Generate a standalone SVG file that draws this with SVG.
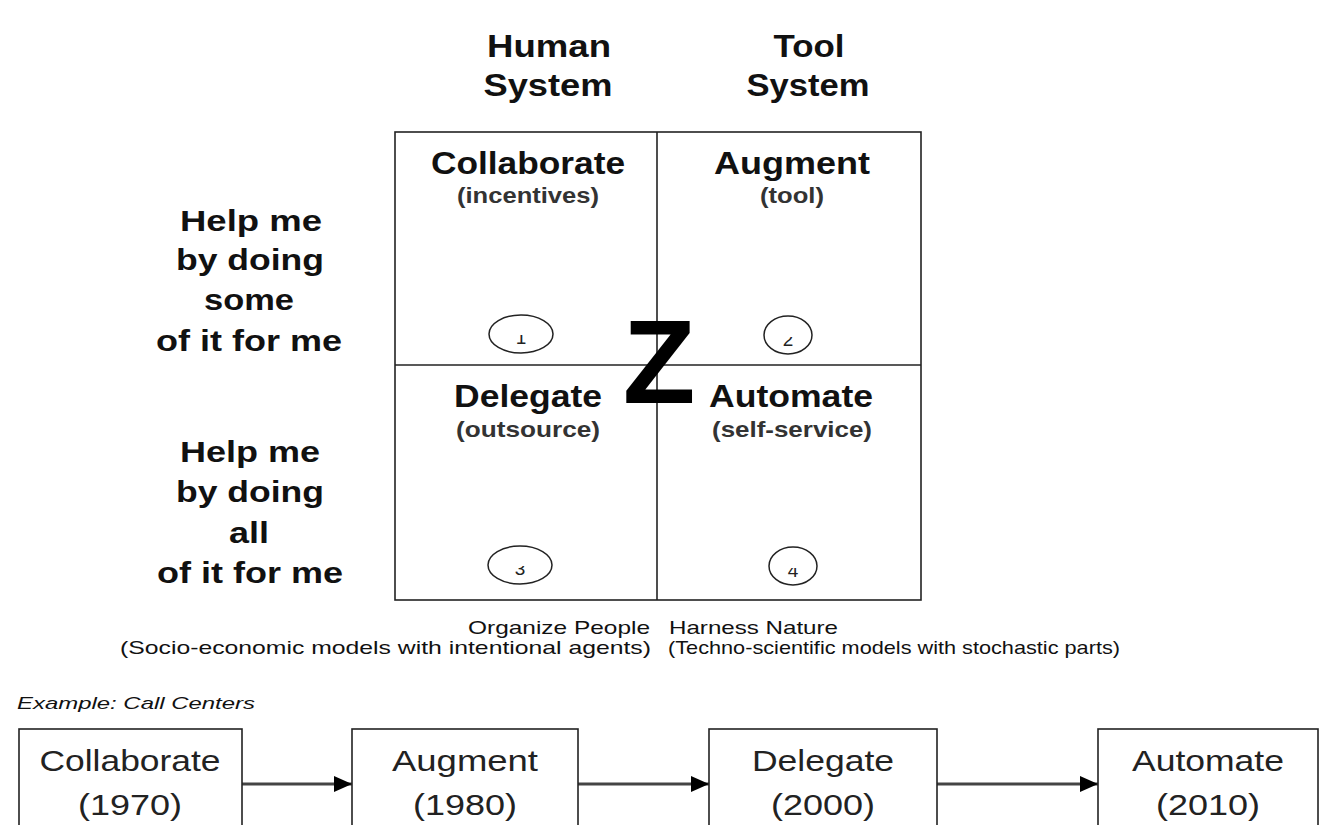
<svg xmlns="http://www.w3.org/2000/svg" width="1332" height="825" viewBox="0 0 1332 825">
<defs>
<style>
text{font-family:"Liberation Sans",Arial,sans-serif;fill:#111}
.hd{font-size:31px;font-weight:bold;text-anchor:middle}
.rl{font-size:29px;font-weight:bold;text-anchor:middle}
.qt{font-size:32px;font-weight:bold;text-anchor:middle}
.qs{font-size:22px;font-weight:bold;text-anchor:middle;fill:#333}
.num{font-size:19px;text-anchor:middle;fill:#222}
.ell{fill:none;stroke:#222;stroke-width:1.5}
.grid{fill:none;stroke:#222;stroke-width:1.6}
.cap{font-size:19px}
.bx{fill:#fff;stroke:#222;stroke-width:1.6}
.bt{font-size:29px;text-anchor:middle;fill:#222}
.conn{stroke:#444;stroke-width:3;fill:none}
</style>
<marker id="ah" viewBox="0 0 18 16" refX="18" refY="8" markerWidth="18" markerHeight="16" markerUnits="userSpaceOnUse" orient="auto">
<path d="M0,0 L18,8 L0,16 Z" fill="#000"/>
</marker>
<clipPath id="c1"><rect x="500" y="335" width="40" height="14"/></clipPath>
<clipPath id="c2"><rect x="766" y="337" width="40" height="14"/></clipPath>
<clipPath id="c3"><rect x="500" y="566" width="40" height="14"/></clipPath>
<clipPath id="c4"><rect x="771" y="568" width="40" height="14"/></clipPath>
</defs>
<rect width="1332" height="825" fill="#fff"/>

<g id="header-human">
<text class="hd" x="549" y="57" textLength="124" lengthAdjust="spacingAndGlyphs">Human</text>
<text class="hd" x="548" y="96" textLength="129" lengthAdjust="spacingAndGlyphs">System</text>
</g>
<g id="header-tool">
<text class="hd" x="809" y="57" textLength="71" lengthAdjust="spacingAndGlyphs">Tool</text>
<text class="hd" x="808" y="96" textLength="123" lengthAdjust="spacingAndGlyphs">System</text>
</g>

<g id="row-some">
<text class="rl" x="251" y="231" textLength="142" lengthAdjust="spacingAndGlyphs">Help me</text>
<text class="rl" x="250" y="270" textLength="148" lengthAdjust="spacingAndGlyphs">by doing</text>
<text class="rl" x="249" y="310" textLength="90" lengthAdjust="spacingAndGlyphs">some</text>
<text class="rl" x="249" y="351" textLength="186" lengthAdjust="spacingAndGlyphs">of it for me</text>
</g>
<g id="row-all">
<text class="rl" x="250" y="462" textLength="140" lengthAdjust="spacingAndGlyphs">Help me</text>
<text class="rl" x="250" y="502" textLength="148" lengthAdjust="spacingAndGlyphs">by doing</text>
<text class="rl" x="249" y="543" textLength="40" lengthAdjust="spacingAndGlyphs">all</text>
<text class="rl" x="250" y="583" textLength="186" lengthAdjust="spacingAndGlyphs">of it for me</text>
</g>

<g id="grid">
<rect class="grid" x="395" y="132" width="526" height="468"/>
<line class="grid" x1="657" y1="132" x2="657" y2="600"/>
<line class="grid" x1="395" y1="365" x2="921" y2="365"/>
</g>

<g id="q-collaborate">
<text class="qt" x="528" y="174" textLength="194" lengthAdjust="spacingAndGlyphs">Collaborate</text>
<text class="qs" x="528" y="203" textLength="142" lengthAdjust="spacingAndGlyphs">(incentives)</text>
<ellipse class="ell" cx="521" cy="334" rx="32" ry="19"/>
<text class="num" x="521" y="344" clip-path="url(#c1)">1</text>
</g>
<g id="q-augment">
<text class="qt" x="792" y="174" textLength="156" lengthAdjust="spacingAndGlyphs">Augment</text>
<text class="qs" x="792" y="203" textLength="64" lengthAdjust="spacingAndGlyphs">(tool)</text>
<ellipse class="ell" cx="788" cy="335" rx="24" ry="19"/>
<text class="num" x="788" y="346" clip-path="url(#c2)">2</text>
</g>
<g id="q-delegate">
<text class="qt" x="528" y="407" textLength="148" lengthAdjust="spacingAndGlyphs">Delegate</text>
<text class="qs" x="528" y="437" textLength="144" lengthAdjust="spacingAndGlyphs">(outsource)</text>
<ellipse class="ell" cx="520" cy="565" rx="32" ry="19"/>
<text class="num" x="520" y="575" clip-path="url(#c3)">3</text>
</g>
<g id="q-automate">
<text class="qt" x="791" y="407" textLength="164" lengthAdjust="spacingAndGlyphs">Automate</text>
<text class="qs" x="792" y="437" textLength="160" lengthAdjust="spacingAndGlyphs">(self-service)</text>
<ellipse class="ell" cx="793" cy="566" rx="24" ry="19"/>
<text class="num" x="793" y="577" clip-path="url(#c4)">4</text>
</g>

<g id="z-mark">
<text x="659" y="403" style="font-size:119px;font-weight:bold;text-anchor:middle;fill:#000">Z</text>
</g>

<g id="caption-people">
<text class="cap" x="650" y="634" text-anchor="end" textLength="182" lengthAdjust="spacingAndGlyphs">Organize People</text>
<text class="cap" x="651" y="654" text-anchor="end" textLength="531" lengthAdjust="spacingAndGlyphs">(Socio-economic models with intentional agents)</text>
</g>
<g id="caption-nature">
<text class="cap" x="669" y="634" textLength="169" lengthAdjust="spacingAndGlyphs">Harness Nature</text>
<text class="cap" x="668" y="654" textLength="452" lengthAdjust="spacingAndGlyphs">(Techno-scientific models with stochastic parts)</text>
</g>

<g id="example-label">
<text x="17" y="709" style="font-size:17px;font-style:italic" textLength="238" lengthAdjust="spacingAndGlyphs">Example: Call Centers</text>
</g>

<g id="connectors">
<line class="conn" x1="242" y1="784" x2="352" y2="784" marker-end="url(#ah)"/>
<line class="conn" x1="578" y1="784" x2="709" y2="784" marker-end="url(#ah)"/>
<line class="conn" x1="937" y1="784" x2="1098" y2="784" marker-end="url(#ah)"/>
</g>

<g id="box-collaborate">
<rect class="bx" x="19" y="729" width="223" height="110"/>
<text class="bt" x="130" y="771" textLength="181" lengthAdjust="spacingAndGlyphs">Collaborate</text>
<text class="bt" x="130" y="815" textLength="104" lengthAdjust="spacingAndGlyphs">(1970)</text>
</g>
<g id="box-augment">
<rect class="bx" x="352" y="729" width="226" height="110"/>
<text class="bt" x="465" y="771" textLength="146" lengthAdjust="spacingAndGlyphs">Augment</text>
<text class="bt" x="465" y="815" textLength="104" lengthAdjust="spacingAndGlyphs">(1980)</text>
</g>
<g id="box-delegate">
<rect class="bx" x="709" y="729" width="228" height="110"/>
<text class="bt" x="823" y="771" textLength="142" lengthAdjust="spacingAndGlyphs">Delegate</text>
<text class="bt" x="823" y="815" textLength="104" lengthAdjust="spacingAndGlyphs">(2000)</text>
</g>
<g id="box-automate">
<rect class="bx" x="1098" y="729" width="220" height="110"/>
<text class="bt" x="1208" y="771" textLength="152" lengthAdjust="spacingAndGlyphs">Automate</text>
<text class="bt" x="1208" y="815" textLength="104" lengthAdjust="spacingAndGlyphs">(2010)</text>
</g>
</svg>
